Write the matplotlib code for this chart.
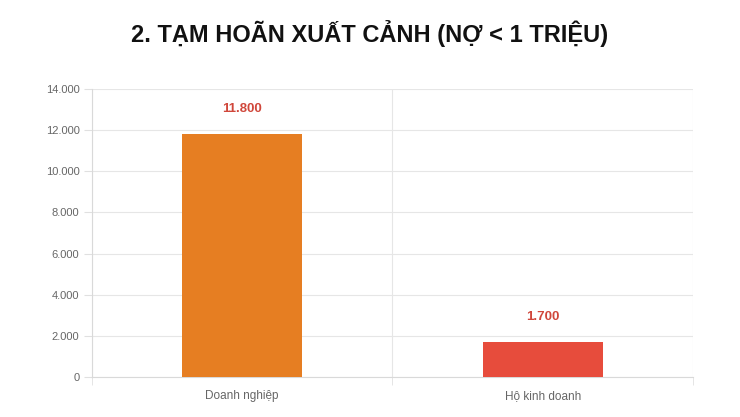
import matplotlib.pyplot as plt
from matplotlib.ticker import FuncFormatter

categories = ['Doanh nghiệp', 'Hộ kinh doanh']
values = [11800, 1700]
colors = ['#E67E22', '#E74C3C']
title = '2. TẠM HOÃN XUẤT CẢNH (NỢ < 1 TRIỆU)'

plt.rcParams['font.family'] = ['Liberation Sans', 'DejaVu Sans']

fig = plt.figure(figsize=(7.4, 4.17), dpi=100)
ax = fig.add_axes([0.1243, 0.0959, 0.8122, 0.6907])

x = list(range(len(categories)))
ax.bar(x, values, width=0.4, color=colors, zorder=3)

for xi, v in zip(x, values):
    ax.annotate('{:,}'.format(v).replace(',', '.'), (xi, v), xytext=(0, 14),
                textcoords='offset points', ha='center', va='bottom',
                color='#D0473B', fontsize=9.5, fontweight='bold')

ax.set_xlim(-0.5, 1.5)
ax.set_ylim(0, 14000)
ax.set_yticks(range(0, 14001, 2000))
ax.yaxis.set_major_formatter(FuncFormatter(lambda v, p: '{:,}'.format(int(v)).replace(',', '.')))
ax.set_xticks(x)
ax.set_xticklabels(categories)
ax.set_xticks([-0.5, 0.5, 1.5], minor=True)

ax.grid(axis='y', color='#e6e6e6', linewidth=0.8, zorder=0)
ax.grid(axis='x', which='minor', color='#e6e6e6', linewidth=0.8, zorder=0)
ax.tick_params(axis='x', which='major', length=0, pad=16, labelsize=8.5, labelcolor='#666666')
ax.tick_params(axis='x', which='minor', length=6, color='#e0e0e0')
ax.tick_params(axis='y', length=6, color='#e0e0e0', labelsize=8, labelcolor='#666666', pad=3)
for lbl in ax.get_xticklabels():
    lbl.set_verticalalignment('baseline')

for side in ['top', 'right']:
    ax.spines[side].set_visible(False)
for side in ['left', 'bottom']:
    ax.spines[side].set_color('#d9d9d9')
    ax.spines[side].set_linewidth(0.8)

fig.text(0.5, 0.92, title, ha='center', va='center', fontsize=17,
         fontweight='bold', color='#111111')

fig.savefig('out.png', dpi=100)
